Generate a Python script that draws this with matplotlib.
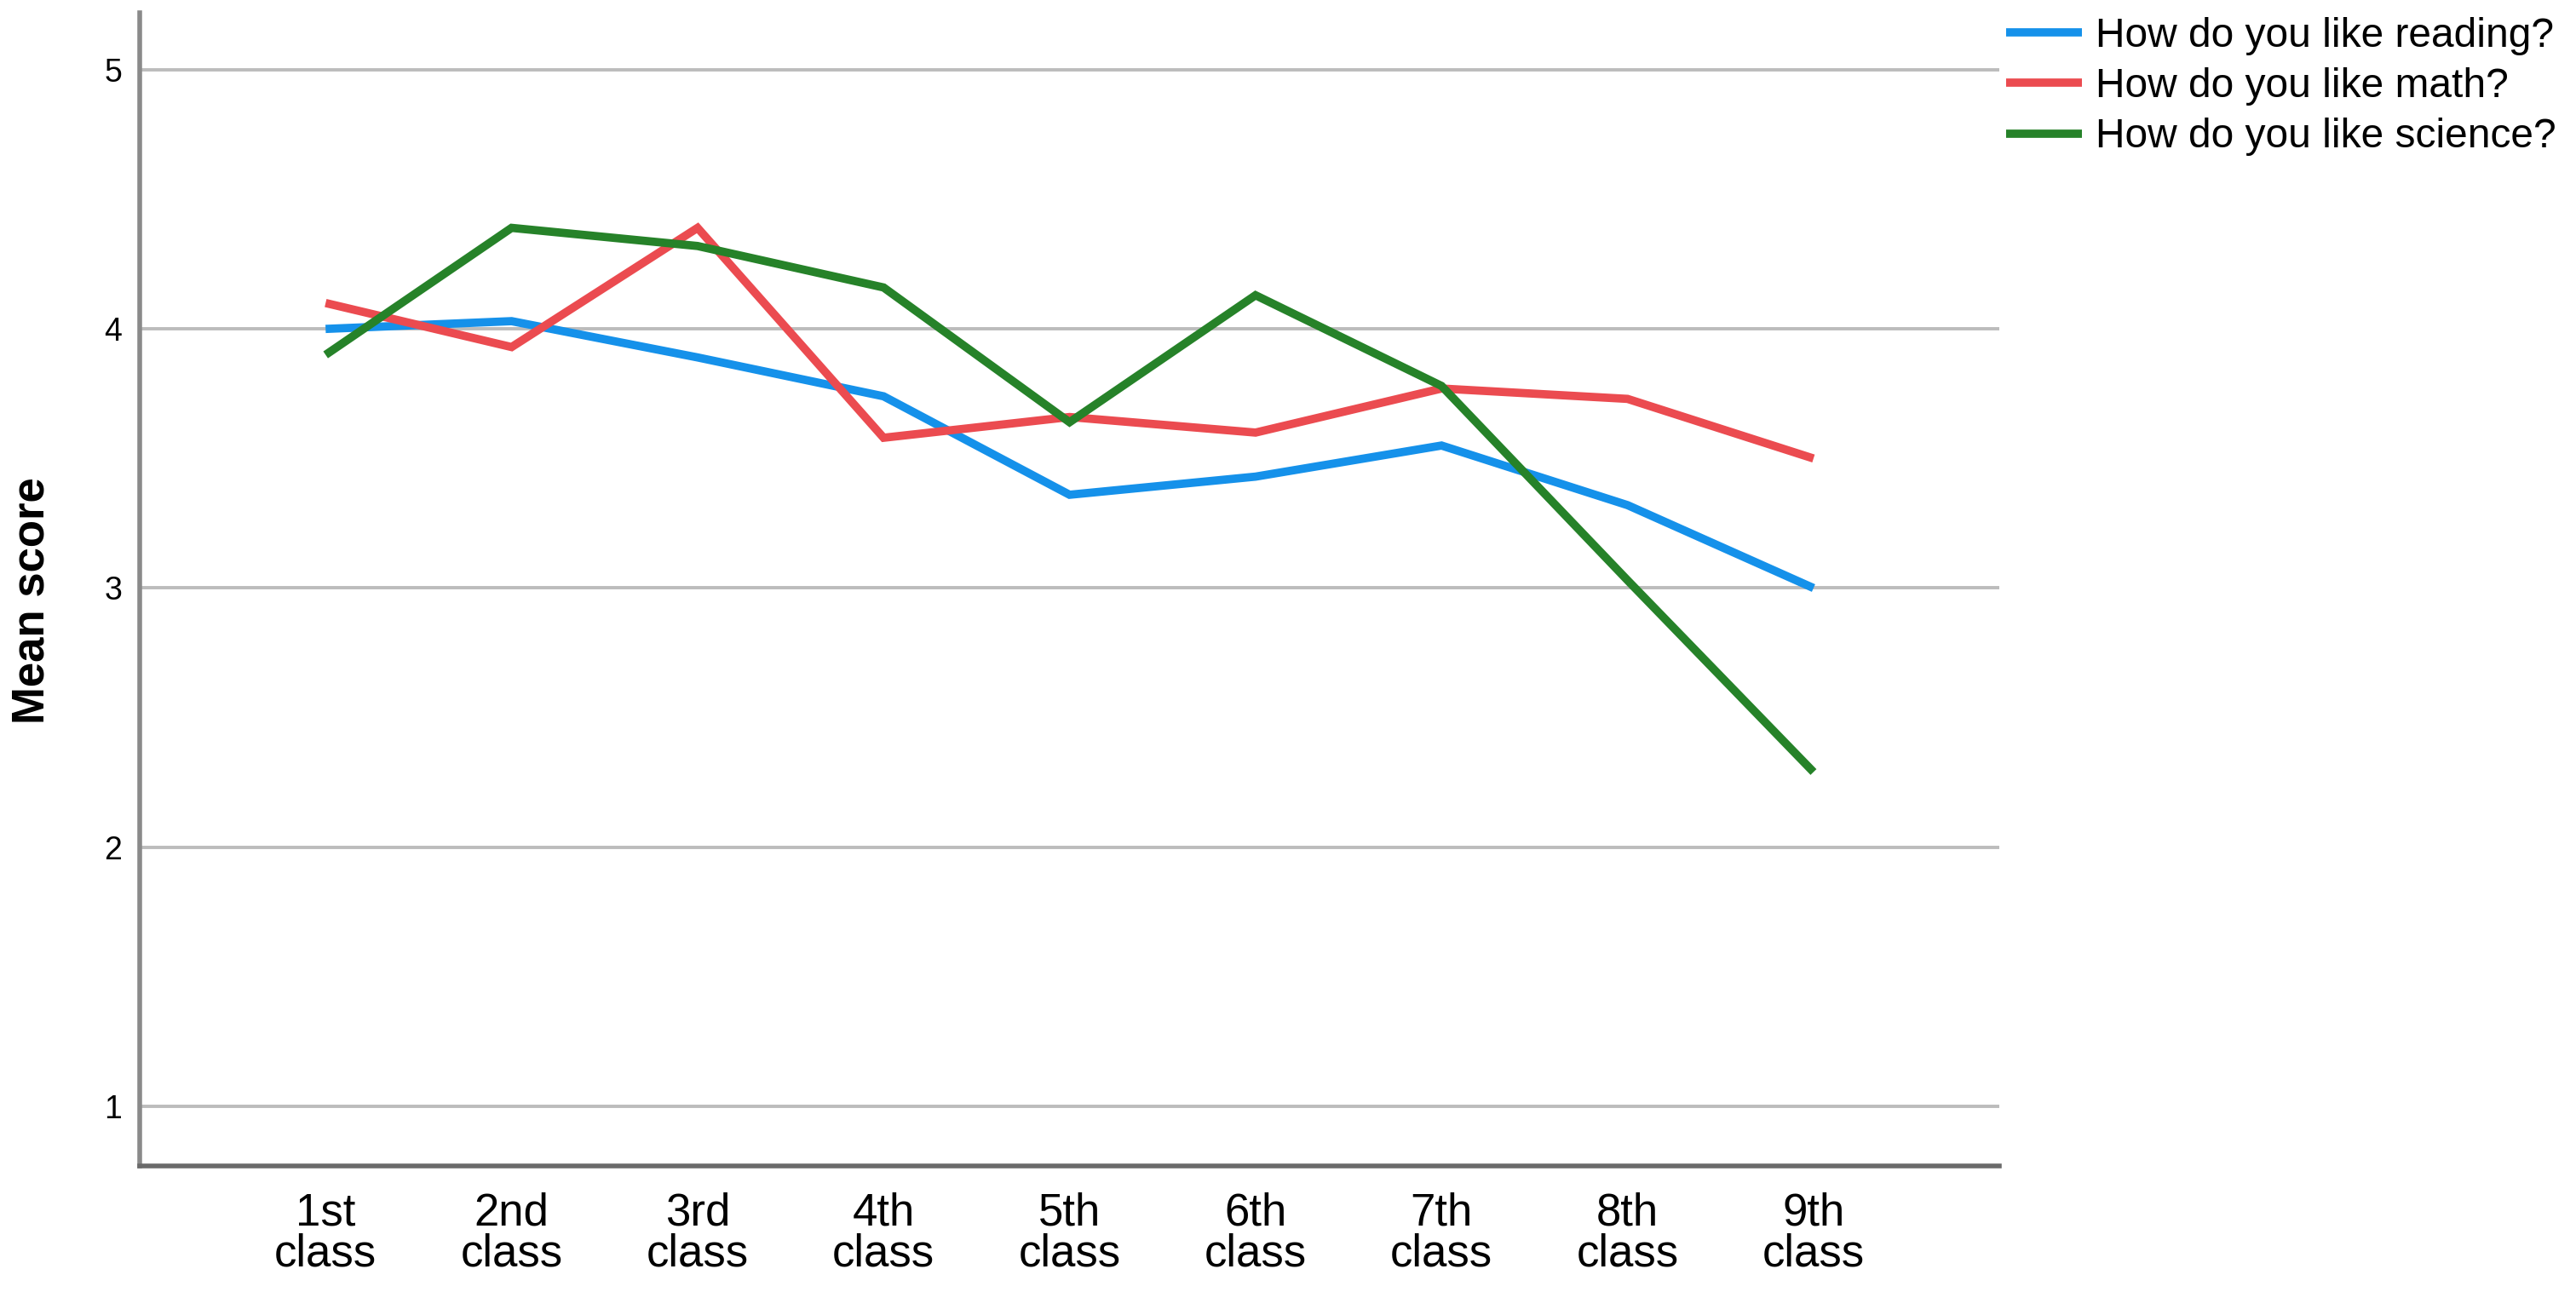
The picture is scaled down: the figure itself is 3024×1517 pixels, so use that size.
import matplotlib
matplotlib.use("Agg")
import matplotlib.pyplot as plt

classes = ["1st\nclass", "2nd\nclass", "3rd\nclass", "4th\nclass", "5th\nclass",
           "6th\nclass", "7th\nclass", "8th\nclass", "9th\nclass"]
reading = [4.00, 4.03, 3.89, 3.74, 3.36, 3.43, 3.55, 3.32, 3.00]
math = [4.10, 3.93, 4.39, 3.58, 3.66, 3.60, 3.77, 3.73, 3.50]
science = [3.90, 4.39, 4.32, 4.16, 3.64, 4.13, 3.78, 3.03, 2.29]
series_labels = ["How do you like reading?", "How do you like math?", "How do you like science?"]
colors = ["#1591ea", "#eb4b50", "#268229"]
yticks = [1, 2, 3, 4, 5]

plt.rcParams["font.family"] = ["Liberation Sans", "DejaVu Sans"]

fig = plt.figure(figsize=(30.24, 15.17), dpi=100)
ax = fig.add_axes([0.0542, 0.0976, 0.7220, 0.8925])

x = list(range(1, len(classes) + 1))
for vals, lab, col in zip([reading, math, science], series_labels, colors):
    ax.plot(x, vals, color=col, lw=7.0, label=lab, solid_joinstyle="miter",
            solid_capstyle="butt", zorder=3)

ax.set_xlim(0, 10)
ax.set_ylim(0.77, 5.22)
ax.set_yticks(yticks)
ax.set_yticklabels([str(v) for v in yticks], fontsize=27)
ax.set_xticks(x)
ax.set_xticklabels(classes, fontsize=38, linespacing=0.95)
ax.tick_params(axis="both", length=0)
ax.tick_params(axis="x", pad=22)
ax.tick_params(axis="y", pad=15)
ax.grid(axis="y", color="#bcbcbc", lw=2.8, zorder=1)
ax.set_axisbelow(True)

for side in ["top", "right"]:
    ax.spines[side].set_visible(False)
ax.spines["left"].set_color("#8a8a8a")
ax.spines["left"].set_linewidth(4)
ax.spines["bottom"].set_color("#6a6a6a")
ax.spines["bottom"].set_linewidth(4)

fig.text(0.0125, 0.535, "Mean score", rotation=90, fontsize=38, fontweight="bold",
         ha="center", va="center")

fig.legend(loc="upper left", bbox_to_anchor=(0.7788, 0.987), frameon=False,
           fontsize=34.5, handlelength=1.85, handletextpad=0.33, labelspacing=0.3,
           borderpad=0, borderaxespad=0)

fig.savefig("out.png", dpi=100)
